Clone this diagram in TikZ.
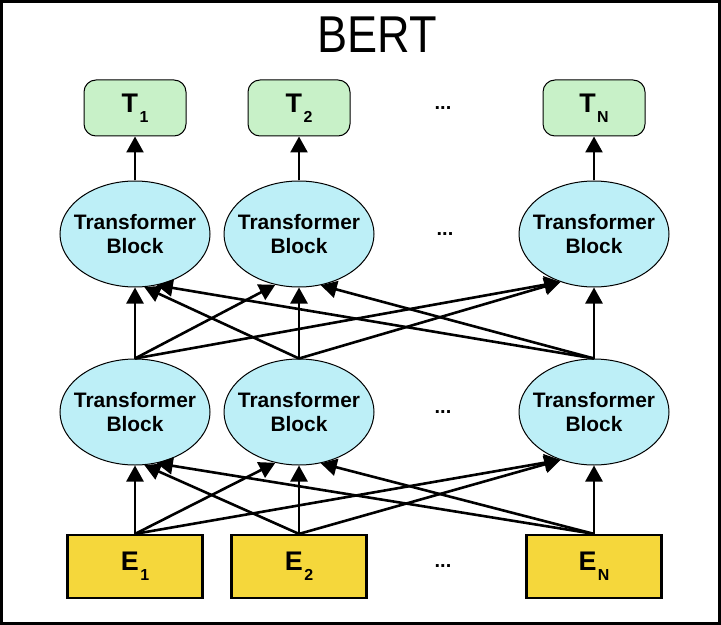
\documentclass[tikz,border=0pt]{standalone}
\usepackage{fontspec}
\setmainfont{Liberation Sans}
\usetikzlibrary{arrows.meta,positioning,shapes.geometric}
\definecolor{outgreen}{HTML}{C8F1C8}
\definecolor{blockblue}{HTML}{BDEFF7}
\definecolor{embyellow}{HTML}{F5D73B}
\newcommand{\lsub}[1]{\kern1.5bp\raisebox{-10bp}{\fontsize{16}{16}\selectfont #1}}

\begin{document}
\begin{tikzpicture}[x=1bp,y=1bp,node distance=164bp,
        >={Triangle[length=16bp,width=17bp]},
        out node/.style={rectangle,draw,rounded corners=12bp,fill=outgreen,line width=1bp,minimum width=102bp,minimum height=56bp,inner sep=0pt,font=\fontsize{27}{27}\selectfont\bfseries},
        block node/.style={ellipse,draw,fill=blockblue,line width=1bp,minimum width=150bp,minimum height=106bp,inner sep=0pt,inner xsep=-18bp,align=center,font=\fontsize{21}{25}\selectfont\bfseries},
        emb node/.style={rectangle,draw,fill=embyellow,line width=2.2bp,minimum width=135bp,minimum height=63bp,inner sep=0pt,font=\fontsize{27}{27}\selectfont\bfseries},
        dot node/.style={font=\fontsize{20}{20}\selectfont\bfseries}]

    \useasboundingbox (0,0) rectangle (721,-625);
    \draw[line width=3bp] (1.5,-1.5) rectangle (719.5,-623.5);
    \node[font=\fontsize{52}{52}\selectfont] (title) at (377,-34.5) {\scalebox{0.87}[1]{BERT}};

    \node[emb node] (e1) at (135,-566.5) {E\lsub{1}};
    \node[emb node] (e2) [right of=e1] {E\lsub{2}};
    \node[emb node] (en) [xshift=131bp, right of=e2] {E\lsub{N}};
    \node[dot node] (edots) [xshift=-20bp, right of=e2] {...};

    \node[block node] (b1) at (135,-412) {Transformer\\Block};
    \node[block node] (b2) [right of=b1] {Transformer\\Block};
    \node[block node] (b3) [xshift=131bp, right of=b2] {Transformer\\Block};
    \node[dot node] (bdots) [xshift=-20bp, right of=b2] {...};

    \node[block node] (u1) at (135,-234) {Transformer\\Block};
    \node[block node] (u2) [right of=u1] {Transformer\\Block};
    \node[block node] (u3) [xshift=131bp, right of=u2] {Transformer\\Block};
    \node[dot node] (udots) [xshift=-18bp, right of=u2] {...};

    \node[out node] (t1) at (135,-108) {T\lsub{1}};
    \node[out node] (t2) [right of=t1] {T\lsub{2}};
    \node[out node] (tn) [xshift=131bp, right of=t2] {T\lsub{N}};
    \node[dot node] (tdots) [xshift=-20bp, right of=t2] {...};

    \path[->,line width=2.6bp]
    (e1.north) edge (b1.south)
    (e1.north) edge (b2.245)
    (e1.north) edge (b3.235)
    (e2.north) edge (b1.280)
    (e2.north) edge (b2.south)
    (e2.north) edge (b3.235)
    (en.north) edge (b1.293)
    (en.north) edge (b2.293)
    (en.north) edge (b3.south)
    (b1.north) edge (u1.south)
    (b1.north) edge (u2.245)
    (b1.north) edge (u3.235)
    (b2.north) edge (u1.280)
    (b2.north) edge (u2.south)
    (b2.north) edge (u3.235)
    (b3.north) edge (u1.293)
    (b3.north) edge (u2.293)
    (b3.north) edge (u3.south)
    (u1.north) edge (t1.south)
    (u2.north) edge (t2.south)
    (u3.north) edge (tn.south);
\end{tikzpicture}
\end{document}
